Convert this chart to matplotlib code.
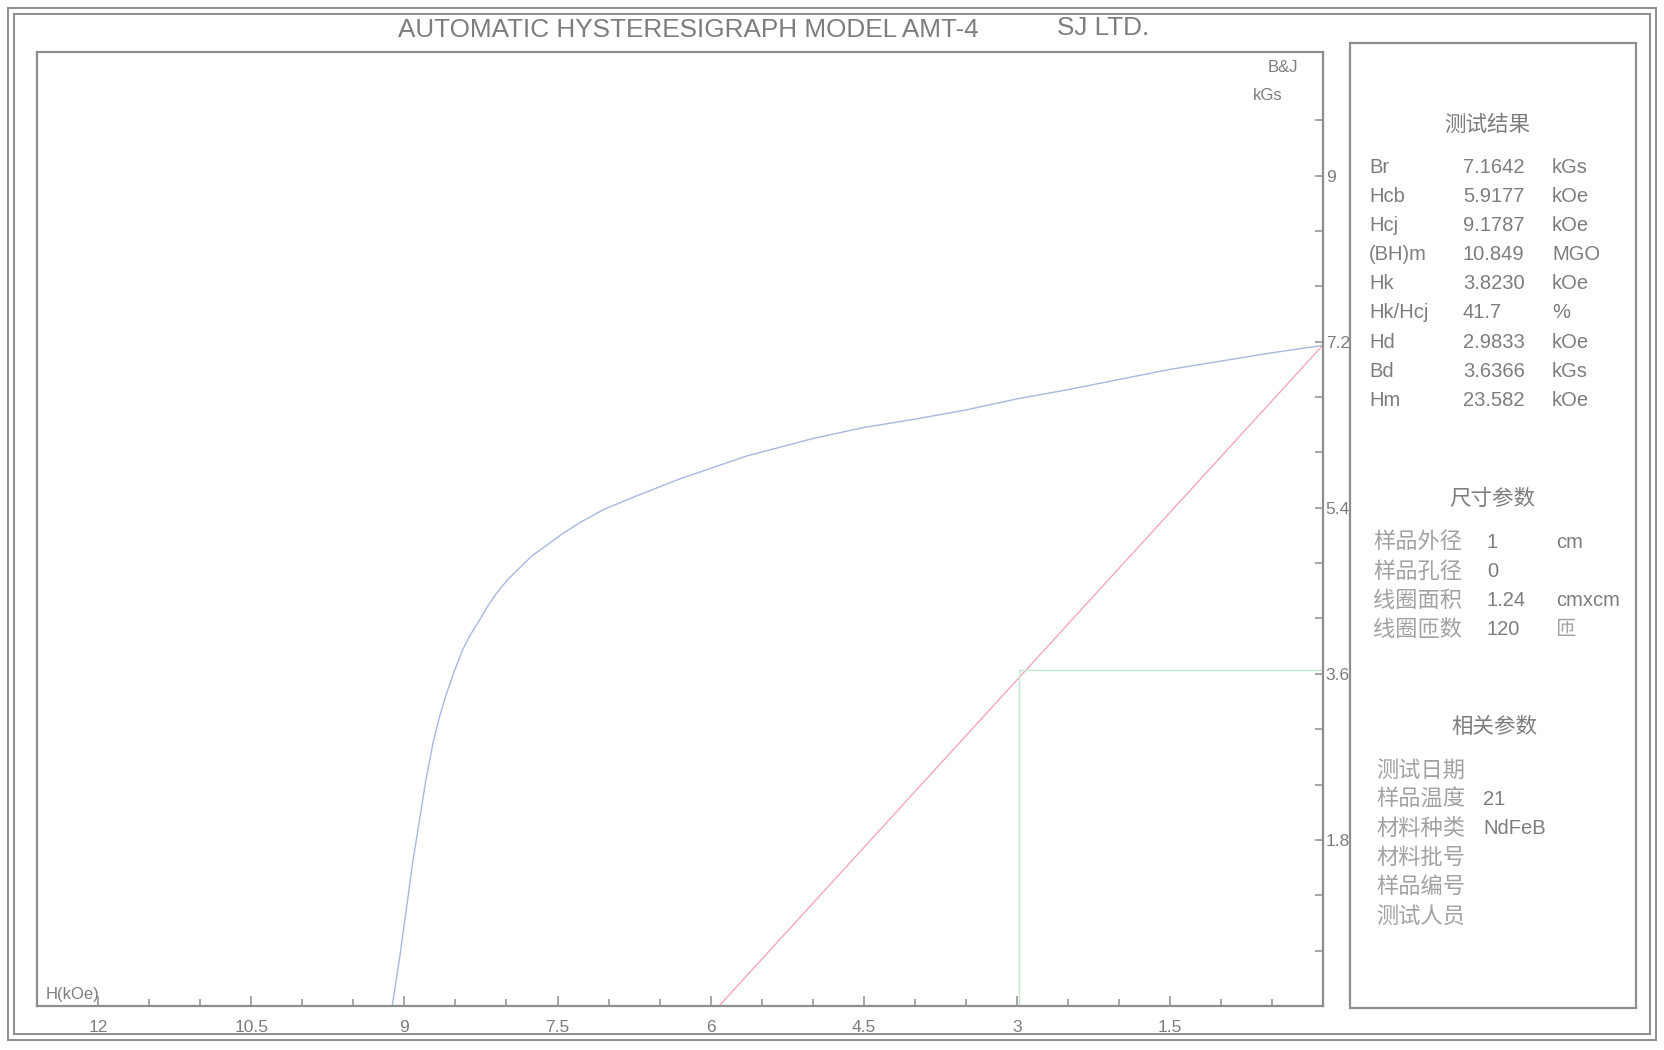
import matplotlib
matplotlib.use("Agg")
import matplotlib.pyplot as plt
from matplotlib.lines import Line2D
from matplotlib.patches import Rectangle
from matplotlib.ticker import FixedLocator, FuncFormatter

# demagnetisation curve (H in kOe, B in kGs)
H_curve = [0.0, 0.5, 1.0, 1.5, 2.0, 2.5, 3.0, 3.5, 4.0, 4.5, 5.0, 5.65, 6.31, 6.79,
           7.05, 7.28, 7.45, 7.61, 7.75, 7.87, 7.99, 8.10, 8.18, 8.26, 8.35, 8.43,
           8.51, 8.59, 8.66, 8.72, 8.79, 8.85, 8.92, 8.98, 9.05, 9.12]
B_curve = [7.16, 7.08, 6.99, 6.90, 6.79, 6.68, 6.58, 6.46, 6.36, 6.27, 6.15, 5.96, 5.71, 5.50,
           5.38, 5.24, 5.12, 4.99, 4.88, 4.75, 4.62, 4.47, 4.34, 4.19, 4.03, 3.86,
           3.63, 3.38, 3.12, 2.85, 2.45, 2.03, 1.55, 1.06, 0.50, 0.0]

Br = 7.1642
Hcb = 5.9177
Hd = 2.9833
Bd = 3.6366

x_major = [12, 10.5, 9, 7.5, 6, 4.5, 3, 1.5]
x_minor = [i * 0.5 for i in range(0, 25)]
y_major = [9, 7.2, 5.4, 3.6, 1.8]
y_minor = [i * 0.6 for i in range(0, 17)]

result_names = ["Br", "Hcb", "Hcj", "(BH)m", "Hk", "Hk/Hcj", "Hd", "Bd", "Hm"]
result_values = ["7.1642", "5.9177", "9.1787", "10.849", "3.8230", "41.7", "2.9833", "3.6366", "23.582"]
result_units = ["kGs", "kOe", "kOe", "MGO", "kOe", "%", "kOe", "kGs", "kOe"]

size_names = ["样品外径", "样品孔径", "线圈面积", "线圈匝数"]
size_values = ["1", "0", "1.24", "120"]
size_units = ["cm", "", "cmxcm", "匝"]

info_names = ["测试日期", "样品温度", "材料种类", "材料批号", "样品编号", "测试人员"]
info_values = ["", "21", "NdFeB", "", "", ""]

W, H = 1665, 1050
LATIN = ["Liberation Sans", "DejaVu Sans"]
CJK = ["Noto Sans CJK SC", "DejaVu Sans"]
TXT = "#7d7d7d"
CJK_TXT = "#a2a2a2"
FRAME = "#8e8e8e"


def fx(x):
    return x / W


def fy(y):
    return 1 - y / H


fig = plt.figure(figsize=(16.65, 10.5), dpi=100)
fig.patch.set_facecolor("white")

ax = fig.add_axes([fx(37), fy(1006), fx(1323) - fx(37), fy(52) - fy(1006)])
ax.set_xlim(12.6, 0)
ax.set_ylim(0, 10.34)

ax.plot(H_curve, B_curve, color="#a8b8de", lw=1.0)
ax.plot([0, Hcb], [Br, 0], color="#f2a8be", lw=1.0)
ax.plot([Hd, Hd], [0, Bd], color="#c2ead0", lw=1.0)
ax.plot([Hd, 0], [Bd, Bd], color="#c2ead0", lw=1.0)

for s in ax.spines.values():
    s.set_color(FRAME)
    s.set_linewidth(1.6)

ax.yaxis.tick_right()
ax.xaxis.set_major_locator(FixedLocator(x_major))
ax.xaxis.set_minor_locator(FixedLocator(x_minor))
ax.yaxis.set_major_locator(FixedLocator(y_major))
ax.yaxis.set_minor_locator(FixedLocator(y_minor))
fmt = FuncFormatter(lambda v, p: ("%g" % v))
ax.xaxis.set_major_formatter(fmt)
ax.yaxis.set_major_formatter(fmt)
ax.tick_params(axis="x", which="major", direction="in", length=7, width=1.1, color=FRAME,
               labelcolor=TXT, labelsize=12.5, pad=10)
ax.tick_params(axis="x", which="minor", direction="in", length=5, width=1.1, color=FRAME)
ax.tick_params(axis="y", which="both", direction="in", length=6, width=1.1, color=FRAME,
               labelcolor=TXT, labelsize=12.5, pad=2)
for lab in ax.get_xticklabels() + ax.get_yticklabels():
    lab.set_family(LATIN)

fig.text(fx(1298), fy(68), "B&J", color=TXT, fontsize=12, family=LATIN, ha="right", va="center")
fig.text(fx(1283), fy(96), "kGs", color=TXT, fontsize=12, family=LATIN, ha="right", va="center")
fig.text(fx(46), fy(995), "H(kOe)", color=TXT, fontsize=12, family=LATIN, ha="left", va="center")

# title
fig.text(fx(398), fy(30), "AUTOMATIC HYSTERESIGRAPH MODEL AMT-4", color=TXT, fontsize=18.8,
         family=LATIN, ha="left", va="center")
fig.text(fx(1057), fy(28), "SJ LTD.", color=TXT, fontsize=18.8, family=LATIN, ha="left", va="center")

# outer border (double lines)
for off in (0, 6):
    fig.add_artist(Line2D([fx(8 + off), fx(1656 - off)], [fy(8 + off), fy(8 + off)],
                          color=FRAME, lw=1.4))
    fig.add_artist(Line2D([fx(8 + off), fx(8 + off)], [fy(8 + off), fy(1040 - off)],
                          color=FRAME, lw=1.4))
    fig.add_artist(Line2D([fx(1656 - off), fx(1656 - off)], [fy(8 + off), fy(1040 - off)],
                          color=FRAME, lw=1.4))
    fig.add_artist(Line2D([fx(8 + off), fx(1656 - off)], [fy(1040 - off), fy(1040 - off)],
                          color=FRAME, lw=1.4))

# side panel
fig.add_artist(Rectangle((fx(1350), fy(1008)), fx(1636) - fx(1350), fy(43) - fy(1008),
                         transform=fig.transFigure, fill=False, ec=FRAME, lw=1.6))

fig.text(fx(1487), fy(125), "测试结果", color=TXT, fontsize=15.5, family=CJK, ha="center", va="center")
for i in range(len(result_names)):
    y = 167 + i * 29.2
    fig.text(fx(1369), fy(y), result_names[i], color=TXT, fontsize=14.5, family=LATIN, va="center")
    fig.text(fx(1463), fy(y), result_values[i], color=TXT, fontsize=14.5, family=LATIN, va="center")
    fig.text(fx(1552), fy(y), result_units[i], color=TXT, fontsize=14.5, family=LATIN, va="center")

fig.text(fx(1492), fy(499), "尺寸参数", color=TXT, fontsize=15.5, family=CJK, ha="center", va="center")
for i in range(len(size_names)):
    y = 542 + i * 29.3
    fig.text(fx(1373), fy(y), size_names[i], color=CJK_TXT, fontsize=16, family=CJK, va="center")
    fig.text(fx(1487), fy(y), size_values[i], color=TXT, fontsize=14.5, family=LATIN, va="center")
    fam = CJK if size_units[i] == "匝" else LATIN
    col = CJK_TXT if size_units[i] == "匝" else TXT
    fig.text(fx(1556), fy(y), size_units[i], color=col, fontsize=14.5, family=fam, va="center")

fig.text(fx(1494), fy(727), "相关参数", color=TXT, fontsize=15.5, family=CJK, ha="center", va="center")
for i in range(len(info_names)):
    y = 770 + i * 29.2
    fig.text(fx(1376), fy(y), info_names[i], color=CJK_TXT, fontsize=16, family=CJK, va="center")
    fig.text(fx(1483), fy(y), info_values[i], color=TXT, fontsize=14.5, family=LATIN, va="center")

fig.savefig("out.png", dpi=100, facecolor="white")
